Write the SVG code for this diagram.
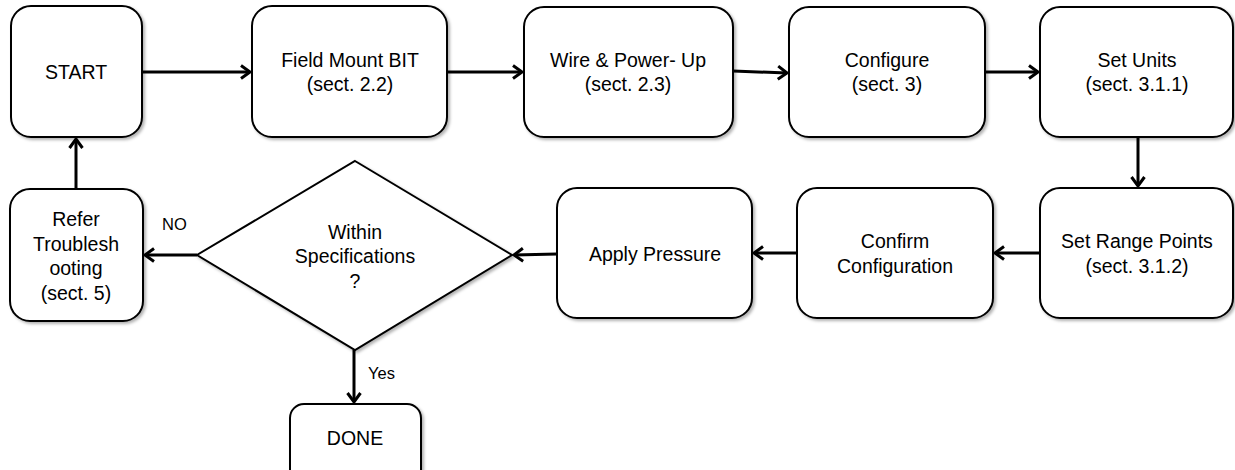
<svg xmlns="http://www.w3.org/2000/svg" width="1235" height="470" viewBox="0 0 1235 470">
<style>
.box{fill:#fff;stroke:#000;stroke-width:2;filter:url(#sh)}
.t{font-family:"Liberation Sans",Arial,sans-serif;font-size:19.5px;fill:#000;text-anchor:middle}
.s{font-family:"Liberation Sans",Arial,sans-serif;font-size:16.5px;fill:#000}
.c{fill:none;stroke:#000;stroke-width:3;marker-end:url(#ah)}
</style>
<defs>
<filter id="sh" x="-10%" y="-10%" width="125%" height="125%">
<feDropShadow dx="2" dy="2" stdDeviation="1.5" flood-color="#000" flood-opacity="0.3"/>
</filter>
<marker id="ah" markerUnits="userSpaceOnUse" markerWidth="14" markerHeight="16" refX="11" refY="8" orient="auto">
<path d="M2,1.5 L11,8 L2,14.5" fill="none" stroke="#000" stroke-width="3" stroke-linejoin="miter"/>
</marker>
</defs>
<g id="connectors">
<path class="c" d="M142,72 H250"/>
<path class="c" d="M447,72 H522"/>
<path class="c" d="M733,71 L787,73"/>
<path class="c" d="M985,72 H1038"/>
<path class="c" d="M1138,137 V186"/>
<path class="c" d="M1040,253 H995"/>
<path class="c" d="M797,253 H754"/>
<path class="c" d="M557,254 L514,255"/>
<path class="c" d="M197,255 H145"/>
<path class="c" d="M76,189 V139"/>
<path class="c" d="M354,350 V402"/>
</g>
<g id="start"><rect class="box" x="11" y="6" width="131" height="131" rx="20"/><text class="t" x="76" y="79">START</text></g>
<g id="field"><rect class="box" x="252" y="6" width="195" height="131" rx="20"/><text class="t" x="350" y="67">Field Mount BIT</text><text class="t" x="350" y="91">(sect. 2.2)</text></g>
<g id="wire"><rect class="box" x="524" y="7" width="209" height="130" rx="20"/><text class="t" x="628" y="67">Wire &amp; Power- Up</text><text class="t" x="628" y="91">(sect. 2.3)</text></g>
<g id="configure"><rect class="box" x="789" y="7" width="196" height="130" rx="20"/><text class="t" x="887" y="67">Configure</text><text class="t" x="887" y="91">(sect. 3)</text></g>
<g id="setunits"><rect class="box" x="1040" y="7" width="193" height="130" rx="20"/><text class="t" x="1137" y="67">Set Units</text><text class="t" x="1137" y="91">(sect. 3.1.1)</text></g>
<g id="setrange"><rect class="box" x="1040" y="188" width="193" height="130" rx="20"/><text class="t" x="1137" y="248">Set Range Points</text><text class="t" x="1137" y="273">(sect. 3.1.2)</text></g>
<g id="confirm"><rect class="box" x="797" y="188" width="196" height="130" rx="20"/><text class="t" x="895" y="248">Confirm</text><text class="t" x="895" y="273">Configuration</text></g>
<g id="apply"><rect class="box" x="557" y="188" width="195" height="130" rx="20"/><text class="t" x="655" y="261">Apply Pressure</text></g>
<g id="decision"><polygon points="355,161 512,255 355,350 197,255" fill="#fff" stroke="#000" stroke-width="2" filter="url(#sh)"/><text class="t" x="355" y="239">Within</text><text class="t" x="355" y="263">Specifications</text><text class="t" x="355" y="288">?</text></g>
<g id="refer"><rect class="box" x="10" y="189" width="133" height="132" rx="20"/><text class="t" x="76" y="226">Refer</text><text class="t" x="76" y="251">Troublesh</text><text class="t" x="76" y="275">ooting</text><text class="t" x="76" y="300">(sect. 5)</text></g>
<g id="done"><rect class="box" x="290" y="404" width="131" height="80" rx="14"/><text class="t" x="355" y="445">DONE</text></g>
<text class="s" x="162" y="230">NO</text>
<text class="s" x="368" y="379">Yes</text>
</svg>
